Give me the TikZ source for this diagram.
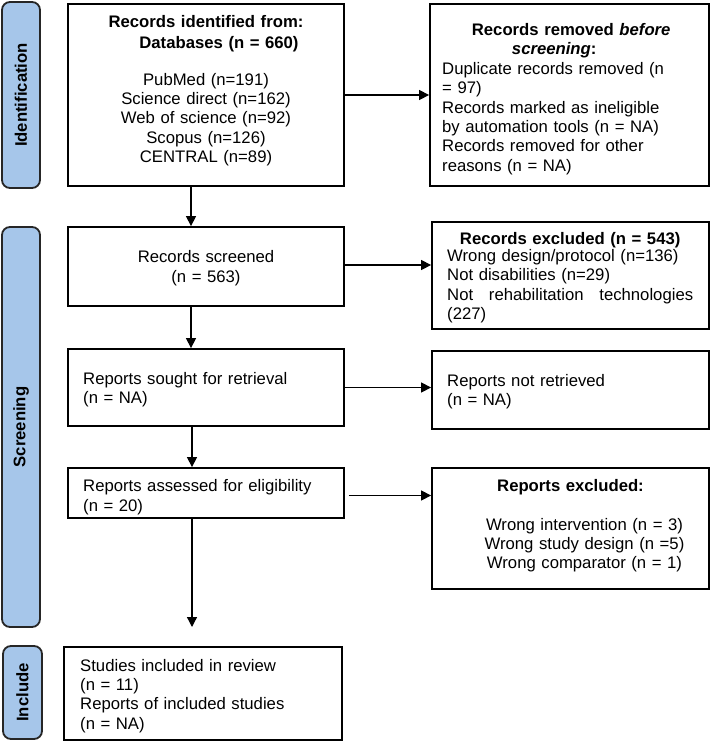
\documentclass[tikz,border=0pt]{standalone}
\usepackage{fontspec}
\setmainfont{Liberation Sans}
\usetikzlibrary{arrows.meta,calc}
\definecolor{barblue}{RGB}{166,198,234}
\begin{document}
\begin{tikzpicture}[x=1pt,y=-1pt,
  box/.style={draw=black,line width=1.8pt,rectangle,inner sep=0pt},
  sidebar/.style={draw=black!85,line width=1.8pt,fill=barblue,rounded corners=8pt,inner sep=0pt,
    font=\fontsize{16.7}{19.3}\selectfont\bfseries},
  txt/.style={inner sep=0pt,font=\fontsize{16.7}{19.3}\selectfont},
  arr/.style={-{Triangle[length=10pt,width=10pt]},line width=1.3pt}]
\useasboundingbox (0,0) rectangle (710,742);

% side bars
\node[sidebar,rotate=90,minimum width=186pt,minimum height=38pt] (idbar) at (21,95) {Identification};
\node[sidebar,rotate=90,minimum width=400pt,minimum height=38pt] (scbar) at (21,427) {Screening};
\node[sidebar,rotate=90,minimum width=93pt,minimum height=39pt] (inbar) at (22.5,692.5) {Include};

% main boxes
\node[box,minimum width=276pt,minimum height=182pt] (b1) at (206,95) {};
\node[box,minimum width=276pt,minimum height=79pt] (b2) at (206,266.5) {};
\node[box,minimum width=276pt,minimum height=77pt] (b3) at (206,387.5) {};
\node[box,minimum width=276pt,minimum height=50pt] (b4) at (206,493) {};
\node[box,minimum width=278pt,minimum height=93pt] (b5) at (203,693.5) {};
\node[box,minimum width=279pt,minimum height=182pt] (r1) at (569.5,95) {};
\node[box,minimum width=277pt,minimum height=107pt] (r2) at (570.5,275.5) {};
\node[box,minimum width=277pt,minimum height=78pt] (r3) at (570.5,390) {};
\node[box,minimum width=277pt,minimum height=121pt] (r4) at (570.5,528.5) {};

% texts
\node[txt,anchor=base,text width=276pt,align=center] (t1) at (206,27.5)
  {{\bfseries Records identified from:\\[1.5pt]
   \hspace*{26pt}Databases (n = 660)}\\[17.5pt]
   PubMed (n=191)\\
   Science direct (n=162)\\
   Web of science (n=92)\\
   Scopus (n=126)\\
   CENTRAL (n=89)};
\node[txt,anchor=base west,text width=262pt,align=left,font=\fontsize{16.7}{19.4}\selectfont] (tr1) at (442,35.5)
  {\makebox[258pt]{\bfseries Records removed \textit{before}}\\
   \makebox[258pt]{\hspace*{-34pt}\bfseries\textit{screening}:}\\
   Duplicate records removed (n\\
   = 97)\\
   Records marked as ineligible\\
   by automation tools (n = NA)\\
   Records removed for other\\
   reasons (n = NA)};
\node[txt,anchor=base,text width=276pt,align=center] (t2) at (206,262.7)
  {Records screened\\(n = 563)};
\node[txt,anchor=base west,text width=250pt,align=left] (tr2) at (447,244)
  {\makebox[246pt]{\bfseries Records excluded (n = 543)}\\[-1.7pt]
   Wrong design/protocol (n=136)\\
   Not disabilities (n=29)\\
   \makebox[246pt][s]{Not\hfill rehabilitation\hfill technologies}\\
   (227)};
\node[txt,anchor=base west,text width=250pt,align=left] (t3) at (83,384)
  {Reports sought for retrieval\\(n = NA)};
\node[txt,anchor=base west,text width=250pt,align=left] (tr3) at (447,386.5)
  {Reports not retrieved\\(n = NA)};
\node[txt,anchor=base west,text width=255pt,align=left,font=\fontsize{16.7}{20}\selectfont] (t4) at (83,491.7)
  {Reports assessed for eligibility\\(n = 20)};
\node[txt,anchor=base,text width=277pt,align=center] (tr4) at (570.5,491.7)
  {{\bfseries Reports excluded:}\\[19.3pt]
   \hspace*{28pt}Wrong intervention (n = 3)\\
   \hspace*{28pt}Wrong study design (n =5)\\
   \hspace*{28pt}Wrong comparator (n = 1)};
\node[txt,anchor=base west,text width=255pt,align=left,font=\fontsize{16.7}{19.4}\selectfont] (t5) at (80,671)
  {Studies included in review\\
   (n = 11)\\
   Reports of included studies\\
   (n = NA)};

% connectors
\coordinate (endpt) at (192,627);
\draw[arr] (b1.east) -- (r1.west);
\draw[arr] ([xshift=-15pt]b1.south) -- ([xshift=-15pt]b1.south |- b2.north);
\draw[arr] ([yshift=1.5pt]b2.east) -- ([yshift=1.5pt]b2.east -| r2.west);
\draw[arr] ([xshift=-15pt]b2.south) -- ([xshift=-15pt]b2.south |- b3.north);
\draw[arr] (b3.east) -- (b3.east -| r3.west);
\draw[arr] ([xshift=-14pt]b3.south) -- ([xshift=-14pt]b3.south |- b4.north);
\draw[arr,shorten <=4pt] ([yshift=-2.5pt]b4.east) -- ([yshift=-2.5pt]b4.east -| r4.west);
\draw[arr] ([xshift=-14pt]b4.south) -- (endpt);
\end{tikzpicture}
\end{document}
